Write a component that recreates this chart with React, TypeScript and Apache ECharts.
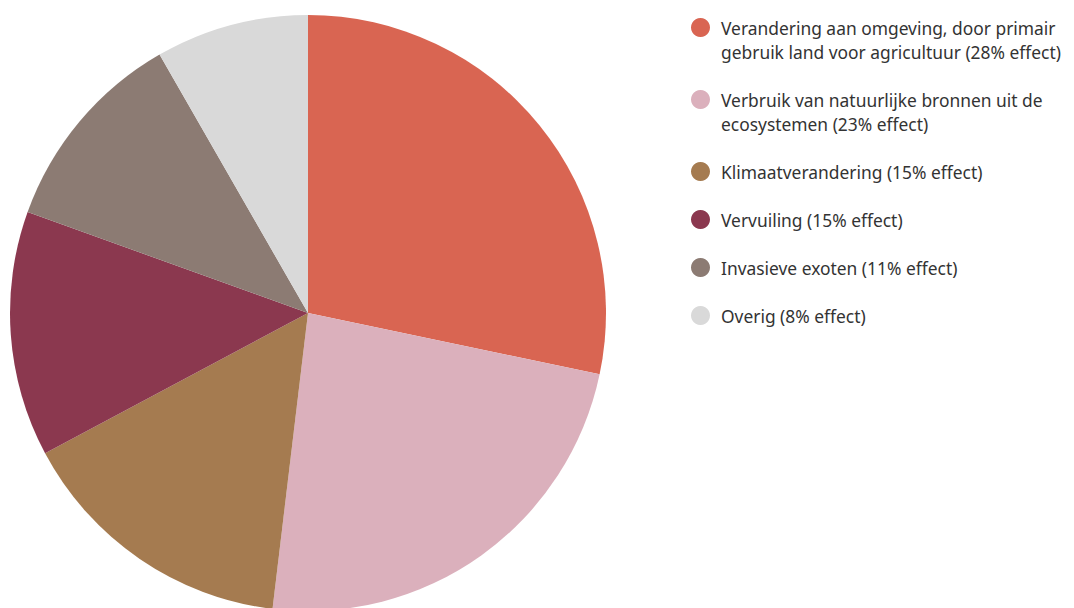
import React, { useEffect, useRef } from "react";
import * as echarts from "echarts";

const categories = [
  "Verandering aan omgeving, door primair\ngebruik land voor agricultuur (28% effect)",
  "Verbruik van natuurlijke bronnen uit de\necosystemen (23% effect)",
  "Klimaatverandering (15% effect)",
  "Vervuiling (15% effect)",
  "Invasieve exoten (11% effect)",
  "Overig (8% effect)",
];
const values = [28.3, 23.6, 15.3, 13.3, 11.2, 8.3];
const colors = ["#D96552", "#DBB0BC", "#A57B50", "#8B384F", "#8C7B73", "#D9D9D9"];

export default function App() {
  const ref = useRef<HTMLDivElement>(null);
  useEffect(() => {
    if (!ref.current) return;
    const chart = echarts.init(ref.current, undefined, { renderer: "svg" });
    const legendEls: any[] = [];
    let cy = 19.5;
    categories.forEach((name, i) => {
      const lines = name.split("\n").length;
      legendEls.push({
        type: "circle",
        shape: { cx: 692.5, cy, r: 9.5 },
        style: { fill: colors[i] },
      });
      legendEls.push({
        type: "text",
        x: 713,
        y: cy - 12,
        style: {
          text: name,
          fill: "#333333",
          font: '17.4px "Noto Sans"',
          lineHeight: 24,
          verticalAlign: "top",
          align: "left",
        },
      });
      cy += lines * 24 + 24;
    });
    chart.setOption({
      animation: false,
      tooltip: { show: false },
      graphic: legendEls,
      series: [
        {
          type: "pie",
          center: [300, 305],
          radius: 298,
          startAngle: 90,
          clockwise: true,
          label: { show: false },
          labelLine: { show: false },
          emphasis: { disabled: true },
          itemStyle: { borderWidth: 0 },
          data: categories.map((n, i) => ({
            name: n,
            value: values[i],
            itemStyle: { color: colors[i] },
          })),
        },
      ],
    });
    return () => chart.dispose();
  }, []);
  return <div ref={ref} style={{ width: 1066, height: 600 }} />;
}
